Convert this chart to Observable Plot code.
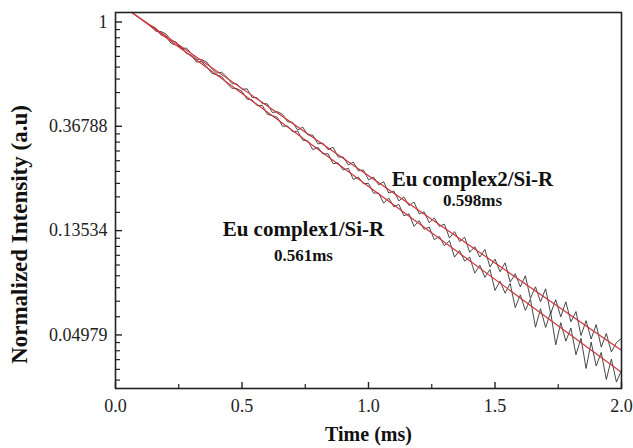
<!DOCTYPE html>
<html>
<head>
<meta charset="utf-8">
<script src="https://cdn.jsdelivr.net/npm/d3@7"></script>
<script src="https://cdn.jsdelivr.net/npm/@observablehq/plot@0.6"></script>
<style>
  html, body { margin: 0; padding: 0; background: #fff; }
  #chart { width: 633px; height: 448px; }
</style>
</head>
<body>
<div id="chart"></div>
<script>
// ---- data ----
const time = [0.14,0.16,0.18,0.20,0.22,0.24,0.26,0.28,0.30,0.32,0.34,0.36,0.38,0.40,0.42,0.44,0.46,0.48,0.50,0.52,0.54,0.56,0.58,0.60,0.62,0.64,0.66,0.68,0.70,0.72,0.74,0.76,0.78,0.80,0.82,0.84,0.86,0.88,0.90,0.92,0.94,0.96,0.98,
  1.00,1.02,1.04,1.06,1.08,1.10,1.12,1.14,1.16,1.18,1.20,1.22,1.24,1.26,1.28,1.30,1.32,1.34,1.36,1.38,1.40,1.42,1.44,1.46,1.48,1.50,1.52,1.54,1.56,1.58,1.60,1.62,1.64,1.66,1.68,1.70,1.72,1.74,1.76,1.78,1.80,1.82,1.84,1.86,1.88,1.90,1.92,1.94,1.96,1.98,2.00];

const complex1 = [0.967,0.942,0.883,0.869,0.814,0.801,0.789,0.739,0.727,0.681,0.684,0.653,0.612,0.602,0.593,0.555,0.530,0.528,0.514,0.477,0.474,0.448,0.450,0.413,0.407,0.401,0.368,0.369,0.349,0.351,0.322,0.320,0.294,0.301,0.282,0.283,0.257,0.259,0.242,0.246,0.221,0.226,0.212,
  0.213,0.194,0.194,0.176,0.185,0.170,0.174,0.156,0.159,0.141,0.149,0.137,0.140,0.124,0.128,0.117,0.123,0.105,0.112,0.101,0.105,0.0900,0.0972,0.0865,0.0932,0.0763,0.0834,0.0743,0.0815,0.0647,0.0731,0.0630,0.0701,0.0536,0.0640,0.0535,0.0619,0.0453,0.0560,0.0469,0.0532,0.0412,0.0482,0.0361,0.0465,0.0370,0.0421,0.0325,0.0395,0.0317,0.0355];

const complex2 = [0.956,0.915,0.912,0.891,0.836,0.825,0.774,0.779,0.739,0.700,0.698,0.682,0.640,0.613,0.617,0.590,0.554,0.552,0.524,0.527,0.485,0.483,0.458,0.456,0.420,0.423,0.413,0.384,0.382,0.355,0.365,0.339,0.338,0.311,0.313,0.294,0.301,0.274,0.274,0.254,0.261,0.240,0.242,
  0.220,0.226,0.210,0.216,0.194,0.198,0.180,0.187,0.172,0.178,0.159,0.162,0.146,0.153,0.141,0.144,0.126,0.134,0.122,0.127,0.110,0.116,0.105,0.113,0.0955,0.103,0.0913,0.0994,0.0826,0.0895,0.0790,0.0878,0.0707,0.0790,0.0684,0.0775,0.0611,0.0698,0.0592,0.0684,0.0565,0.0623,0.0495,0.0571,0.0479,0.0550,0.0443,0.0505,0.0423,0.0463,0.0482];

// single-exponential fits (straight lines on the log axis)
const fitTime = [0.0, 2.0];
const fit1 = [1.229, 0.0348];   // tau = 0.561 ms
const fit2 = [1.220, 0.0430];   // tau = 0.598 ms

const xTicks = [0.0, 0.5, 1.0, 1.5, 2.0];
const xMinorTicks = [0.25, 0.75, 1.25, 1.75];
const yTicks = [1, 0.36788, 0.13534, 0.04979];
const yTickLabels = ["1", "0.36788", "0.13534", "0.04979"];

const seriesLabels = ["Eu complex1/Si-R", "Eu complex2/Si-R"];
const lifetimeLabels = ["0.561ms", "0.598ms"];

// ---- build tables ----
const data1 = time.map((t, i) => ({t, v: complex1[i]}));
const data2 = time.map((t, i) => ({t, v: complex2[i]}));
const fitData1 = fitTime.map((t, i) => ({t, v: fit1[i]}));
const fitData2 = fitTime.map((t, i) => ({t, v: fit2[i]}));

// linear minor ticks between the e-fold labels (as on the original axis)
const yDomain = [0.0298, 1.095];
const decades = [1, Math.exp(-1), Math.exp(-2), Math.exp(-3), Math.exp(-4)];
const yMinorTicks = [];
for (let k = 0; k < decades.length - 1; k++) {
  const hi = decades[k], lo = decades[k + 1];
  for (let j = 1; j <= 8; j++) {
    const v = hi - j * (hi - lo) / 9;
    if (v > yDomain[0] && v < yDomain[1]) yMinorTicks.push(v);
  }
}

const W = 633, H = 448;
const mL = 115, mR = 12, mT = 12, mB = 60;
const plotW = W - mL - mR, plotH = H - mT - mB;
const serif = "'Liberation Serif', 'Times New Roman', serif";

const chart = Plot.plot({
  width: W,
  height: H,
  marginLeft: mL,
  marginRight: mR,
  marginTop: mT,
  marginBottom: mB,
  style: {fontFamily: serif, fontSize: "18px", background: "#fff", color: "#222", overflow: "visible"},
  x: {domain: [0, 2]},
  y: {type: "log", domain: yDomain},
  marks: [
    // data
    Plot.line(data1, {x: "t", y: "v", stroke: "#333", strokeWidth: 0.9, clip: true}),
    Plot.line(data2, {x: "t", y: "v", stroke: "#333", strokeWidth: 0.9, clip: true}),
    // fits
    Plot.line(fitData1, {x: "t", y: "v", stroke: "#d0343c", strokeWidth: 1.2, clip: true}),
    Plot.line(fitData2, {x: "t", y: "v", stroke: "#d0343c", strokeWidth: 1.2, clip: true}),
    // inward ticks
    Plot.ruleX(xTicks, {stroke: "#222", strokeWidth: 1.4, insetTop: plotH - 6}),
    Plot.ruleX(xMinorTicks, {stroke: "#222", strokeWidth: 1.2, insetTop: plotH - 4}),
    Plot.ruleY(yTicks, {stroke: "#222", strokeWidth: 1.4, insetRight: plotW - 7}),
    Plot.ruleY(yMinorTicks, {stroke: "#222", strokeWidth: 1.2, insetRight: plotW - 5}),
    // axes (labels only)
    Plot.axisX({ticks: xTicks, tickFormat: d3.format(".1f"), tickSize: 0, tickPadding: 11, label: null, fontSize: 18}),
    Plot.axisY({ticks: yTicks, tickFormat: d => yTickLabels[yTicks.indexOf(d)], tickSize: 0, tickPadding: 8, label: null, fontSize: 18}),
    Plot.frame({stroke: "#222", strokeWidth: 1.6}),
    // axis titles
    Plot.text(["Time (ms)"], {frameAnchor: "bottom", textAnchor: "middle", lineAnchor: "middle", dy: 46, fontSize: 20, fontWeight: "bold", fill: "#111"}),
    Plot.text(["Normalized Intensity (a.u)"], {frameAnchor: "left", textAnchor: "middle", lineAnchor: "middle", dx: -96, dy: 34, rotate: -90, fontSize: 23, fontWeight: "bold", fill: "#111"}),
    // annotations
    Plot.text([seriesLabels[0]], {x: 0.743, y: 0.1367, fontSize: 21, fontWeight: "bold", fill: "#111"}),
    Plot.text([lifetimeLabels[0]], {x: 0.743, y: 0.1064, fontSize: 17, fontWeight: "bold", fill: "#111"}),
    Plot.text([seriesLabels[1]], {x: 1.411, y: 0.221, fontSize: 21, fontWeight: "bold", fill: "#111"}),
    Plot.text([lifetimeLabels[1]], {x: 1.411, y: 0.1805, fontSize: 17, fontWeight: "bold", fill: "#111"})
  ]
});
document.getElementById("chart").appendChild(chart);
</script>
</body>
</html>
